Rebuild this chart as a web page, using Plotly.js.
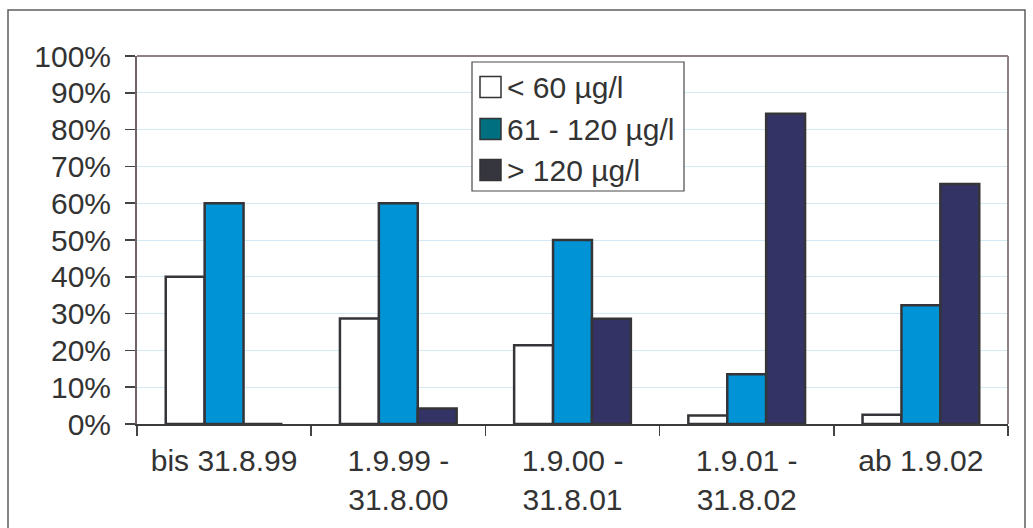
<!DOCTYPE html>
<html>
<head>
<meta charset="utf-8">
<script src="https://cdn.plot.ly/plotly-3.0.1.min.js"></script>
<style>
  html, body { margin: 0; padding: 0; background: #ffffff; }
  #chart { width: 1033px; height: 528px; }
</style>
</head>
<body>
<div id="chart"></div>
<script>
// Periods (x categories)
const periods = [
  'bis 31.8.99',
  '1.9.99 -<br>31.8.00',
  '1.9.00 -<br>31.8.01',
  '1.9.01 -<br>31.8.02',
  'ab 1.9.02'
];

// Share of measurements per concentration class, in percent
const seriesNames = ['< 60 µg/l', '61 - 120 µg/l', '> 120 µg/l'];
const below60 = [40, 28.7, 21.4, 2.3, 2.5];
const from61to120 = [60, 60, 50, 13.5, 32.3];
const above120 = [0, 4.2, 28.6, 84.3, 65.2];

const yTickValues = [0, 10, 20, 30, 40, 50, 60, 70, 80, 90, 100];

// Styling
const barFill = ['#ffffff', '#0094d6', '#333366'];
const keyFill = ['#ffffff', '#006f80', '#36363e'];
const outline = '#353539';
const textColor = '#333333';
const fontFamily = '"Liberation Sans", Arial, sans-serif';
const fontSize = 30;

// Plot-area geometry (pixels) used to place the key box and frame
const W = 1033, H = 528;
const L = 137, R = 25, T = 56, B = 104;
const plotW = W - L - R, plotH = H - T - B;
const px = x => (x - L) / plotW;
const py = y => (H - B - y) / plotH;

const seriesValues = [below60, from61to120, above120];
const traces = seriesValues.map((vals, i) => ({
  type: 'bar',
  name: seriesNames[i],
  x: periods,
  y: vals,
  marker: { color: barFill[i], line: { color: outline, width: 2.5 } },
  showlegend: false,
  hoverinfo: 'skip'
}));

const shapes = [
  // outer frame of the chart
  { type: 'rect', xref: 'paper', yref: 'paper', x0: px(8), x1: px(1025), y0: py(540), y1: py(10),
    line: { color: '#5e5e5e', width: 1.5 }, fillcolor: 'rgba(0,0,0,0)', layer: 'below' },
  // top and right border of the plot area
  { type: 'line', xref: 'paper', yref: 'paper', x0: 0, x1: 1, y0: 1, y1: 1,
    line: { color: '#8e8282', width: 2 } },
  { type: 'line', xref: 'paper', yref: 'paper', x0: 1, x1: 1, y0: 0, y1: 1,
    line: { color: '#8e8282', width: 2 } },
  // key box
  { type: 'rect', xref: 'paper', yref: 'paper', x0: px(472), x1: px(684), y0: py(191), y1: py(62),
    line: { color: '#4a4a4a', width: 1.2 }, fillcolor: '#ffffff' }
];

const annotations = [];
const rowCenters = [87, 129, 170];
seriesNames.forEach((name, i) => {
  const c = rowCenters[i];
  shapes.push({
    type: 'rect', xref: 'paper', yref: 'paper',
    x0: px(480), x1: px(501), y0: py(c + 10.5), y1: py(c - 10.5),
    line: { color: '#333333', width: 1.5 }, fillcolor: keyFill[i]
  });
  annotations.push({
    xref: 'paper', yref: 'paper', x: px(505), y: py(c),
    xanchor: 'left', yanchor: 'middle', showarrow: false,
    text: name, font: { family: fontFamily, size: fontSize, color: textColor }
  });
});

const layout = {
  width: W, height: H,
  margin: { l: L, r: R, t: T, b: B, pad: 0 },
  paper_bgcolor: '#ffffff',
  plot_bgcolor: '#ffffff',
  barmode: 'group',
  bargap: 0.33,
  bargroupgap: 0,
  font: { family: fontFamily, size: fontSize, color: textColor },
  showlegend: false,
  xaxis: {
    type: 'category',
    tickson: 'boundaries',
    ticks: 'outside', ticklen: 10, tickwidth: 1.5, tickcolor: '#444444',
    showline: true, linecolor: '#3a3a3a', linewidth: 2,
    showgrid: false, zeroline: false,
    ticklabelstandoff: 9,
    tickfont: { family: fontFamily, size: fontSize, color: textColor },
    fixedrange: true
  },
  yaxis: {
    range: [0, 100],
    tickvals: yTickValues,
    ticktext: yTickValues.map(v => v + '%'),
    ticks: 'outside', ticklen: 10, tickwidth: 1.5, tickcolor: '#444444',
    showline: true, linecolor: '#6e6464', linewidth: 2,
    showgrid: true, gridcolor: '#d3e9f5', gridwidth: 1,
    zeroline: false,
    ticklabelstandoff: 8,
    tickfont: { family: fontFamily, size: fontSize, color: textColor },
    fixedrange: true
  },
  shapes: shapes,
  annotations: annotations
};

Plotly.newPlot('chart', traces, layout, { displayModeBar: false, staticPlot: true });
</script>
</body>
</html>
